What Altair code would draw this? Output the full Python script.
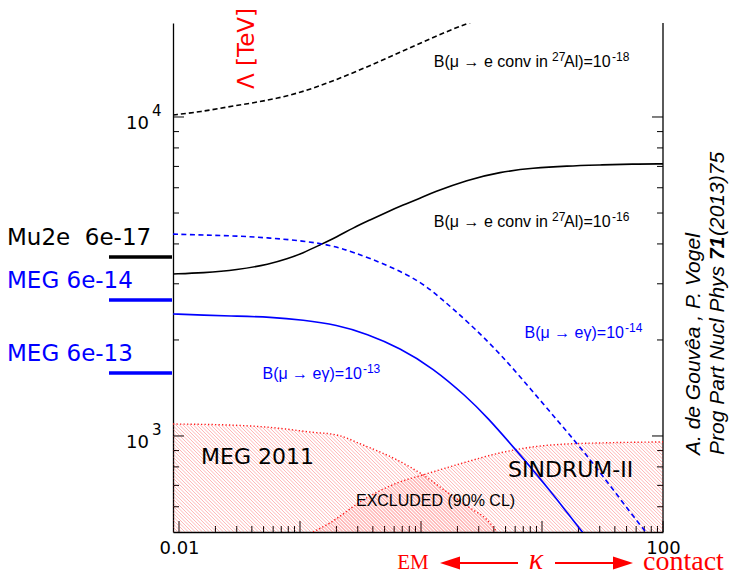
import altair as alt
import numpy as np
import pandas as pd

# ---------------------------------------------------------------- frame
W, H = 490, 509
KAPPA_RANGE = [0.00892, 100.0]
LAMBDA_RANGE = [500.0, 19710.0]

# ---------------------------------------------------------------- curves: Λ [TeV] vs κ
# B(μ → e conv in 27Al) = 1e-18 (dashed black)
conv18_kappa = [0.00892, 0.0149, 0.0279, 0.0533, 0.1, 0.1875, 0.358, 0.67, 1.256, 2.4, 4.5]
conv18_lambda = [10150, 10370, 10830, 11250, 11900, 12950, 14350, 15950, 17750, 19710, 21250]

# B(μ → e conv in 27Al) = 1e-16 (solid black)
conv16_kappa = [0.00892, 0.0158, 0.0301, 0.0565, 0.078, 0.106, 0.146, 0.202, 0.274, 0.379,
                0.524, 0.71, 0.98, 1.256, 2.4, 4.5, 8.43, 16.1, 30.1, 56.5, 100]
conv16_lambda = [3221, 3245, 3312, 3459, 3587, 3747, 3971, 4209, 4490, 4755,
                 5036, 5298, 5560, 5800, 6346, 6723, 6922, 7022, 7072, 7124, 7130]

# B(μ → eγ) = 1e-13 (solid blue)
meg13_kappa = [0.00892, 0.0158, 0.0301, 0.0565, 0.106, 0.202, 0.358, 0.67, 1.256, 2.4,
               3.51, 6.1, 11.6, 21.4, 30]
meg13_lambda = [2413, 2391, 2375, 2360, 2310, 2230, 2090, 1887, 1633, 1325,
                1147, 904, 677, 500, 430]

# B(μ → eγ) = 1e-14 (dashed blue)
meg14_kappa = [0.00892, 0.0158, 0.0301, 0.0565, 0.106, 0.177, 0.274, 0.524, 0.98, 1.52,
               2.4, 4.5, 9.6, 19.4, 30.1, 67, 100]
meg14_lambda = [4295, 4266, 4237, 4178, 4087, 3971, 3776, 3436, 3063, 2668,
                2290, 1820, 1297, 950, 771, 515, 430]

# excluded regions (90% CL): upper boundaries
meg2011_kappa = [0.00892, 0.0249, 0.0646, 0.121, 0.202, 0.332, 0.634, 1.04, 1.64, 2.54, 3.51, 4.25]
meg2011_lambda = [1090, 1083, 1059, 1029, 1007, 937, 841, 755, 667, 595, 546, 500]

sindrum_kappa = [0.128, 0.177, 0.332, 0.634, 1.1, 2.22, 4.5, 8.43, 16.1, 30.1, 100]
sindrum_lambda = [500, 534, 630, 712, 760, 823, 885, 924, 944, 951, 958]

# future sensitivities marked beside the Λ axis
reach_labels = ["Mu2e\u00a0 6e-17", "MEG 6e-14", "MEG 6e-13"]
reach_lambda = [3640, 2669, 1576]
reach_colors = ["black", "blue", "blue"]

# axis ticks and labels
x_major = [0.01, 0.1, 1, 10, 100]
x_minor = [m * d for d in (0.01, 0.1, 1, 10) for m in range(2, 10)]
x_labels = [0.01, 100]
y_major = [1000, 10000]
y_minor = [600, 700, 800, 900] + [m * 1000 for m in range(2, 10)]
y_label_values = [1000, 10000]
y_label_exps = ["3", "4"]

# curve annotations (anchored where the exponent begins)
conv_note_kappa = [11.2, 11.2]
conv_note_lambda = [14870, 4688]
conv_note_exps = ["-18", "-16"]
meg_note_kappa = [47.6, 0.325]
meg_note_lambda = [2103, 1564]
meg_note_exps = ["-14", "-13"]

region_texts = ["MEG 2011", "SINDRUM-II"]
region_kappa = [0.0152, 5.24]
region_lambda = [859, 782]

excluded_text = "EXCLUDED (90% CL)"
excluded_kappa = 0.29
excluded_lambda = 626

# ---------------------------------------------------------------- scales and axes
xs = alt.Scale(type="log", domain=KAPPA_RANGE, nice=False)
ys = alt.Scale(type="log", domain=LAMBDA_RANGE, nice=False)
x_axis = alt.Axis(values=x_labels, format="~g", ticks=False, grid=False,
                  domainColor="black", domainWidth=1.3, labelFont="DejaVu Sans",
                  labelFontSize=18, labelColor="black", labelPadding=7,
                  labelFlush=False, labelOverlap=False, title=None)
y_axis = alt.Axis(labels=False, ticks=False, grid=False, domainColor="black",
                  domainWidth=1.3, title="\u039b [TeV]", titleColor="red",
                  titleFont="DejaVu Sans", titleFontSize=23, titleFontWeight="normal",
                  titleAngle=270, titleX=73, titleY=25, titleAlign="center",
                  titleBaseline="middle")
X = alt.X("kappa:Q", scale=xs, axis=x_axis)
Y = alt.Y("lam:Q", scale=ys, axis=y_axis)

lx0, lx1 = np.log10(KAPPA_RANGE)
ly0, ly1 = np.log10(LAMBDA_RANGE)


def to_px(k, lam):
    k = np.asarray(k, float)
    lam = np.asarray(lam, float)
    return ((np.log10(k) - lx0) / (lx1 - lx0) * W,
            (ly1 - np.log10(lam)) / (ly1 - ly0) * H)


def to_data(px, py):
    return (10 ** (lx0 + px / W * (lx1 - lx0)),
            10 ** (ly1 - py / H * (ly1 - ly0)))


def hatch(kappa, lam, name, step=3.5):
    """Diagonal hatch segments filling the area under a boundary curve."""
    bx, by = to_px(kappa, lam)
    xx = np.arange(bx.min(), bx.max() + 0.01, 0.25)
    yb = np.interp(xx, bx, by)
    rows = []
    for i, c in enumerate(np.arange(by.min() - xx.max(), H - xx.min(), step)):
        yy = xx + c
        idx = np.flatnonzero((yy >= yb) & (yy <= H))
        if idx.size < 2:
            continue
        runs = np.split(idx, np.flatnonzero(np.diff(idx) > 1) + 1)
        for j, run in enumerate(runs):
            for p in (run[0], run[-1]):
                k, l = to_data(xx[p], yy[p])
                rows.append({"kappa": k, "lam": l, "seg": f"{name}{i}_{j}"})
    return pd.DataFrame(rows)


def curve(kappa, lam, color, dash=None, width=1.6, interp="basis"):
    kw = dict(color=color, strokeWidth=width, clip=True, interpolate=interp)
    if dash:
        kw["strokeDash"] = dash
    return alt.Chart(pd.DataFrame({"kappa": kappa, "lam": lam})).mark_line(**kw).encode(x=X, y=Y)


one = pd.DataFrame({"a": [0]})
layers = []

# right edge of the frame
layers.append(alt.Chart(one).mark_rule(color="black", strokeWidth=1.3).encode(
    x=alt.value(W), y=alt.value(0), y2=alt.value(H)))

# inward ticks
for vals, ln in ((x_major, 11), (x_minor, 6)):
    layers.append(alt.Chart(pd.DataFrame({"kappa": vals})).mark_rule(color="black", strokeWidth=1).encode(
        x=X, y=alt.value(H), y2=alt.value(H - ln)))
for vals, ln in ((y_major, 11), (y_minor, 6)):
    d = pd.DataFrame({"lam": vals})
    layers.append(alt.Chart(d).mark_rule(color="black", strokeWidth=1).encode(
        y=Y, x=alt.value(0), x2=alt.value(ln)))
    layers.append(alt.Chart(d).mark_rule(color="black", strokeWidth=1).encode(
        y=Y, x=alt.value(W), x2=alt.value(W - ln)))

# Λ axis labels 10^n
ylab = pd.DataFrame({"lam": y_label_values, "exp": y_label_exps})
layers.append(alt.Chart(ylab).mark_text(align="right", baseline="middle", font="DejaVu Sans",
                                        fontSize=18, color="black", dy=7).encode(
    y=Y, x=alt.value(-24), text=alt.value("10")))
layers.append(alt.Chart(ylab).mark_text(align="left", baseline="middle", font="DejaVu Sans",
                                        fontSize=15, color="black", dy=-6).encode(
    y=Y, x=alt.value(-21), text="exp:N"))

# ---------------------------------------------------------------- excluded regions
for kap, lam, nm in ((meg2011_kappa, meg2011_lambda, "meg"), (sindrum_kappa, sindrum_lambda, "sin")):
    layers.append(alt.Chart(hatch(kap, lam, nm)).mark_line(
        color="#ff2a2a", strokeWidth=0.7, opacity=0.5, clip=True).encode(
        x=X, y=Y, detail="seg:N"))
    layers.append(curve(kap, lam, "#ff1a1a", dash=[1.3, 2.2], width=1.4, interp="monotone"))

# ---------------------------------------------------------------- model curves
layers.append(curve(conv18_kappa, conv18_lambda, "black", dash=[5, 3]))
layers.append(curve(conv16_kappa, conv16_lambda, "black"))
layers.append(curve(meg14_kappa, meg14_lambda, "blue", dash=[5, 3.5]))
layers.append(curve(meg13_kappa, meg13_lambda, "blue"))

# ---------------------------------------------------------------- annotations
sans = "Liberation Sans"
main_txt = dict(baseline="middle", font=sans, fontSize=16)
sup_txt = dict(align="left", baseline="middle", font=sans, fontSize=12, dy=-5)

conv_notes = pd.DataFrame({"kappa": conv_note_kappa, "lam": conv_note_lambda, "exp": conv_note_exps})
cn = alt.Chart(conv_notes)
layers += [
    cn.mark_text(align="right", color="black", **main_txt).encode(
        x=X, y=Y, text=alt.value("B(\u03bc \u2192 e conv in")),
    cn.mark_text(color="black", dx=4, **sup_txt).encode(x=X, y=Y, text=alt.value("27")),
    cn.mark_text(align="left", color="black", dx=16, **main_txt).encode(
        x=X, y=Y, text=alt.value("Al)=10")),
    cn.mark_text(color="black", dx=64, **sup_txt).encode(x=X, y=Y, text="exp:N"),
]

meg_notes = pd.DataFrame({"kappa": meg_note_kappa, "lam": meg_note_lambda, "exp": meg_note_exps})
mn = alt.Chart(meg_notes)
layers += [
    mn.mark_text(align="right", color="blue", **main_txt).encode(
        x=X, y=Y, text=alt.value("B(\u03bc \u2192 e\u03b3)=10")),
    mn.mark_text(color="blue", dx=1, **sup_txt).encode(x=X, y=Y, text="exp:N"),
]

regions = pd.DataFrame({"kappa": region_kappa, "lam": region_lambda, "t": region_texts})
layers.append(alt.Chart(regions).mark_text(align="left", baseline="middle", font="DejaVu Sans",
                                           fontSize=22, color="black").encode(
    x=X, y=Y, text="t:N"))

layers.append(alt.Chart(pd.DataFrame({"kappa": [excluded_kappa], "lam": [excluded_lambda],
                                      "t": [excluded_text]})).mark_text(
    align="left", baseline="middle", font=sans, fontSize=16, color="black").encode(
    x=X, y=Y, text="t:N"))

# sensitivity markers to the left of the frame
reach = pd.DataFrame({"lam": reach_lambda, "t": reach_labels, "c": reach_colors})
layers.append(alt.Chart(reach).mark_rule(strokeWidth=3.5).encode(
    y=Y, x=alt.value(-64), x2=alt.value(-1),
    color=alt.Color("c:N", scale=None, legend=None)))
layers.append(alt.Chart(reach).mark_text(align="left", baseline="middle", font="DejaVu Sans",
                                         fontSize=23, dy=-19).encode(
    y=Y, x=alt.value(-166), text="t:N",
    color=alt.Color("c:N", scale=None, legend=None)))

# κ axis legend: EM <— κ —> contact
serif = "Liberation Serif"
layers.append(alt.Chart(one).mark_text(align="center", baseline="alphabetic", font=serif,
                                       fontSize=21, color="red").encode(
    x=alt.value(240), y=alt.value(546), text=alt.value("EM")))
layers.append(alt.Chart(one).mark_text(align="center", baseline="alphabetic", font=serif,
                                       fontSize=30, fontStyle="italic", color="red").encode(
    x=alt.value(363), y=alt.value(546), text=alt.value("\u03ba")))
layers.append(alt.Chart(one).mark_text(align="left", baseline="alphabetic", font=serif,
                                       fontSize=28, color="red").encode(
    x=alt.value(470), y=alt.value(547), text=alt.value("contact")))
layers.append(alt.Chart(one).mark_rule(color="red", strokeWidth=2).encode(
    x=alt.value(287), x2=alt.value(345), y=alt.value(540)))
layers.append(alt.Chart(one).mark_rule(color="red", strokeWidth=2).encode(
    x=alt.value(382), x2=alt.value(440), y=alt.value(540)))
layers.append(alt.Chart(one).mark_point(shape="M -1 0 L 1 -0.65 L 1 0.65 Z", filled=True,
                                        size=400, color="red", opacity=1).encode(
    x=alt.value(277), y=alt.value(540)))
layers.append(alt.Chart(one).mark_point(shape="M 1 0 L -1 -0.65 L -1 0.65 Z", filled=True,
                                        size=400, color="red", opacity=1).encode(
    x=alt.value(450), y=alt.value(540)))

# reference credit, rotated along the right edge
cred = dict(angle=270, align="left", baseline="middle", font=sans,
            fontSize=21, fontStyle="italic", color="black")
layers.append(alt.Chart(one).mark_text(**cred).encode(
    x=alt.value(521), y=alt.value(432), text=alt.value("A. de Gouv\u00eaa , P. Vogel")))
layers.append(alt.Chart(one).mark_text(**cred).encode(
    x=alt.value(545), y=alt.value(432), text=alt.value("Prog Part Nucl Phys")))
layers.append(alt.Chart(one).mark_text(**{**cred, "fontWeight": "bold", "dx": 195}).encode(
    x=alt.value(545), y=alt.value(432), text=alt.value("71")))
layers.append(alt.Chart(one).mark_text(**{**cred, "dx": 219}).encode(
    x=alt.value(545), y=alt.value(432), text=alt.value("(2013)75")))

chart = alt.layer(*layers).properties(
    width=W, height=H,
    padding={"left": 173, "top": 23, "right": 736 - 173 - W, "bottom": 574 - 23 - H},
    autosize=alt.AutoSizeParams(type="none"),
    background="white",
).configure_view(stroke=None)

chart.save("out.html", embed_options={"renderer": "svg", "actions": False})
